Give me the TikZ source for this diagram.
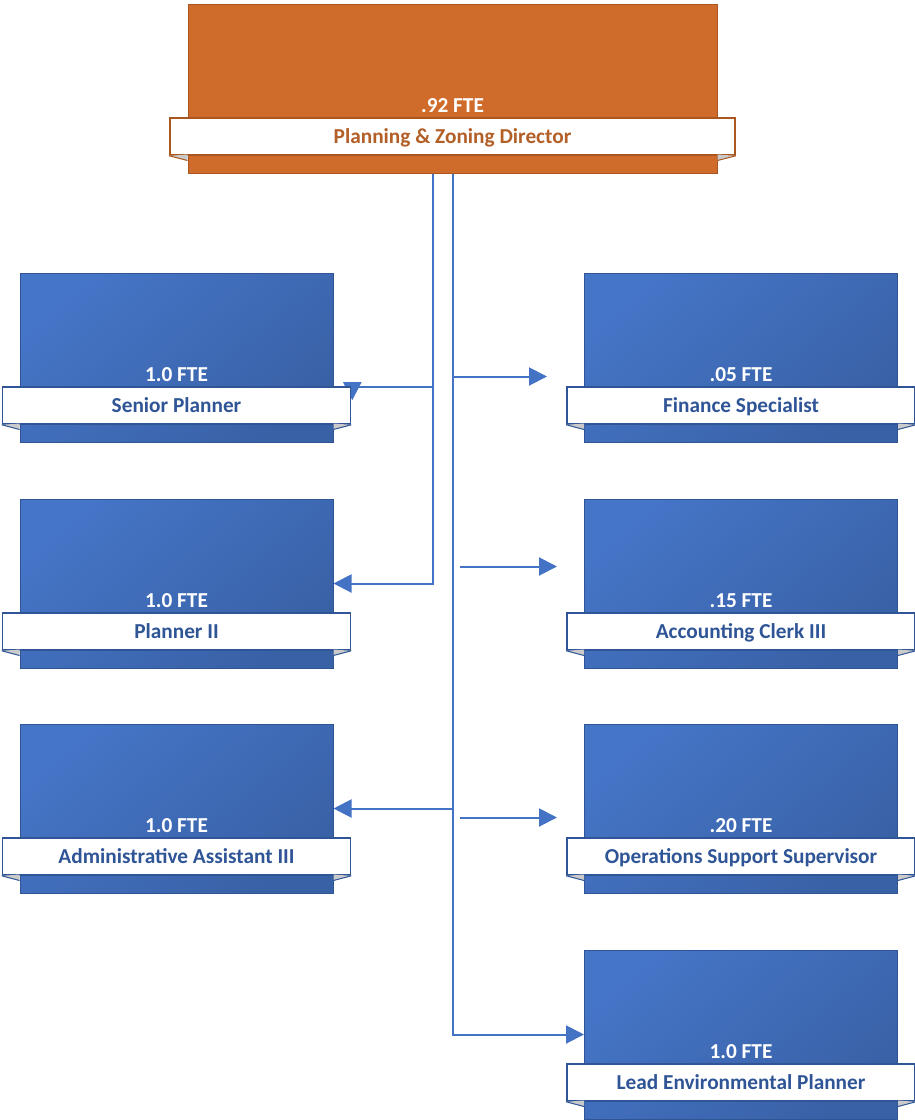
\documentclass[tikz,border=0pt]{standalone}
\usepackage{fontspec}
\setmainfont{Carlito}
\usetikzlibrary{arrows.meta,calc,backgrounds}

\definecolor{orgOrange}{HTML}{D06C2B}
\definecolor{orgOrangeEdge}{HTML}{AA571F}
\definecolor{orgOrangeText}{HTML}{B35F28}
\definecolor{orgBlueA}{HTML}{4575C7}
\definecolor{orgBlueB}{HTML}{3961A6}
\definecolor{orgBlueEdge}{HTML}{2F5597}
\definecolor{orgBlueText}{HTML}{2F5597}
\definecolor{orgLine}{HTML}{4472C4}
\definecolor{orgFold}{HTML}{CACACA}

\tikzset{
  x=1pt, y=-1pt,
  boxbase/.style={rectangle, minimum width=313pt, minimum height=169pt, inner sep=0pt, line width=1pt},
  bluebox/.style={boxbase, draw=orgBlueEdge, top color=orgBlueA, bottom color=orgBlueB, shading angle=40},
  orangebox/.style={boxbase, minimum width=529pt, draw=orgOrangeEdge, fill=orgOrange},
  bandbase/.style={rectangle, minimum width=348pt, minimum height=37pt, inner sep=0pt, fill=white, line width=1.6pt,
    font=\fontsize{21.3}{24}\selectfont\bfseries, text height=13.2pt, text depth=0pt},
  blueband/.style={bandbase, draw=orgBlueEdge, text=orgBlueText},
  orangeband/.style={bandbase, minimum width=565pt, draw=orgOrangeEdge, text=orgOrangeText},
  ftetext/.style={anchor=base, inner sep=0pt, text=white, font=\fontsize{21.3}{24}\selectfont\bfseries},
  blueedge/.style={draw=orgBlueEdge},
  orangeedge/.style={draw=orgOrangeEdge},
  conn/.style={draw=orgLine, line width=2pt, line cap=rect},
  tipped/.style={conn, -{Triangle[length=18pt, width=18pt]}},
}

% #1 name, #2 centre x, #3 top y, #4 FTE line, #5 title, #6 colour scheme
\newcommand{\orgunit}[6]{%
  \node[#6box] (#1) at (#2,{#3+84.5}) {};
  \coordinate (#1-bl) at ($(#1.north west)+(0,151)$);
  \coordinate (#1-br) at ($(#1.north east)+(0,151)$);
  \node[#6band] (#1-band) at (#2,{#3+132.5}) {#5};
  \fill[orgFold] (#1-band.south west) -- (#1-bl) -- ($(#1-bl)+(0,6)$) -- cycle;
  \fill[orgFold] (#1-band.south east) -- (#1-br) -- ($(#1-br)+(0,6)$) -- cycle;
  \draw[#6edge, line width=1pt] (#1-band.south west) -- ($(#1-bl)+(0,6)$);
  \draw[#6edge, line width=1pt] (#1-band.south east) -- ($(#1-br)+(0,6)$);
  \node[ftetext] (#1-fte) at (#2,{#3+108.5}) {#4};
}

\begin{document}
\begin{tikzpicture}
\useasboundingbox (0,0) rectangle (914,1120);

\orgunit{dir}{452.5}{4}{.92 FTE}{Planning \& Zoning Director}{orange}

\orgunit{senior}{176.5}{273}{1.0 FTE}{Senior Planner}{blue}
\orgunit{planner}{176.5}{499}{1.0 FTE}{Planner II}{blue}
\orgunit{admin}{176.5}{724}{1.0 FTE}{Administrative Assistant III}{blue}

\orgunit{finance}{741}{273}{.05 FTE}{Finance Specialist}{blue}
\orgunit{clerk}{741}{499}{.15 FTE}{Accounting Clerk III}{blue}
\orgunit{ops}{741}{724}{.20 FTE}{Operations Support Supervisor}{blue}
\orgunit{lead}{741}{950}{1.0 FTE}{Lead Environmental Planner}{blue}

\begin{scope}[on background layer]
  % two trunks leaving the director
  \coordinate (trunkL) at ($(dir.south)+(-19.5,0)$);
  \coordinate (trunkR) at ($(dir.south)+(0.5,0)$);

  % left trunk: Senior Planner and Planner II
  \coordinate (sp-turn) at ($(senior-band.north east)+(1,1)$);
  \draw[tipped] (trunkL |- sp-turn) -- (sp-turn) -- ++(0,13);
  \draw[tipped] (trunkL) |- (planner.east);

  % right trunk: Administrative Assistant III and Lead Environmental Planner
  \draw[tipped] (trunkR |- admin.east) -- (admin.east);
  \draw[tipped] (trunkR) |- (lead.west);

  % Finance Specialist branch
  \coordinate (fs-tip) at ($(finance.north west)+(-37,104)$);
  \draw[tipped] ($(trunkR |- fs-tip)+(1,0)$) -- (fs-tip);

  % loose arrows towards Accounting Clerk III and Operations Support Supervisor
  \coordinate (ac-tip) at ($(clerk.north west)+(-27,68)$);
  \coordinate (ac-tail) at ($(ac-tip)+(-96,0)$);
  \draw[tipped] (ac-tail) -- (ac-tip);
  \coordinate (os-tip) at ($(ops.north west)+(-27,94)$);
  \coordinate (os-tail) at ($(os-tip)+(-96,0)$);
  \draw[tipped] (os-tail) -- (os-tip);
\end{scope}
\end{tikzpicture}
\end{document}
